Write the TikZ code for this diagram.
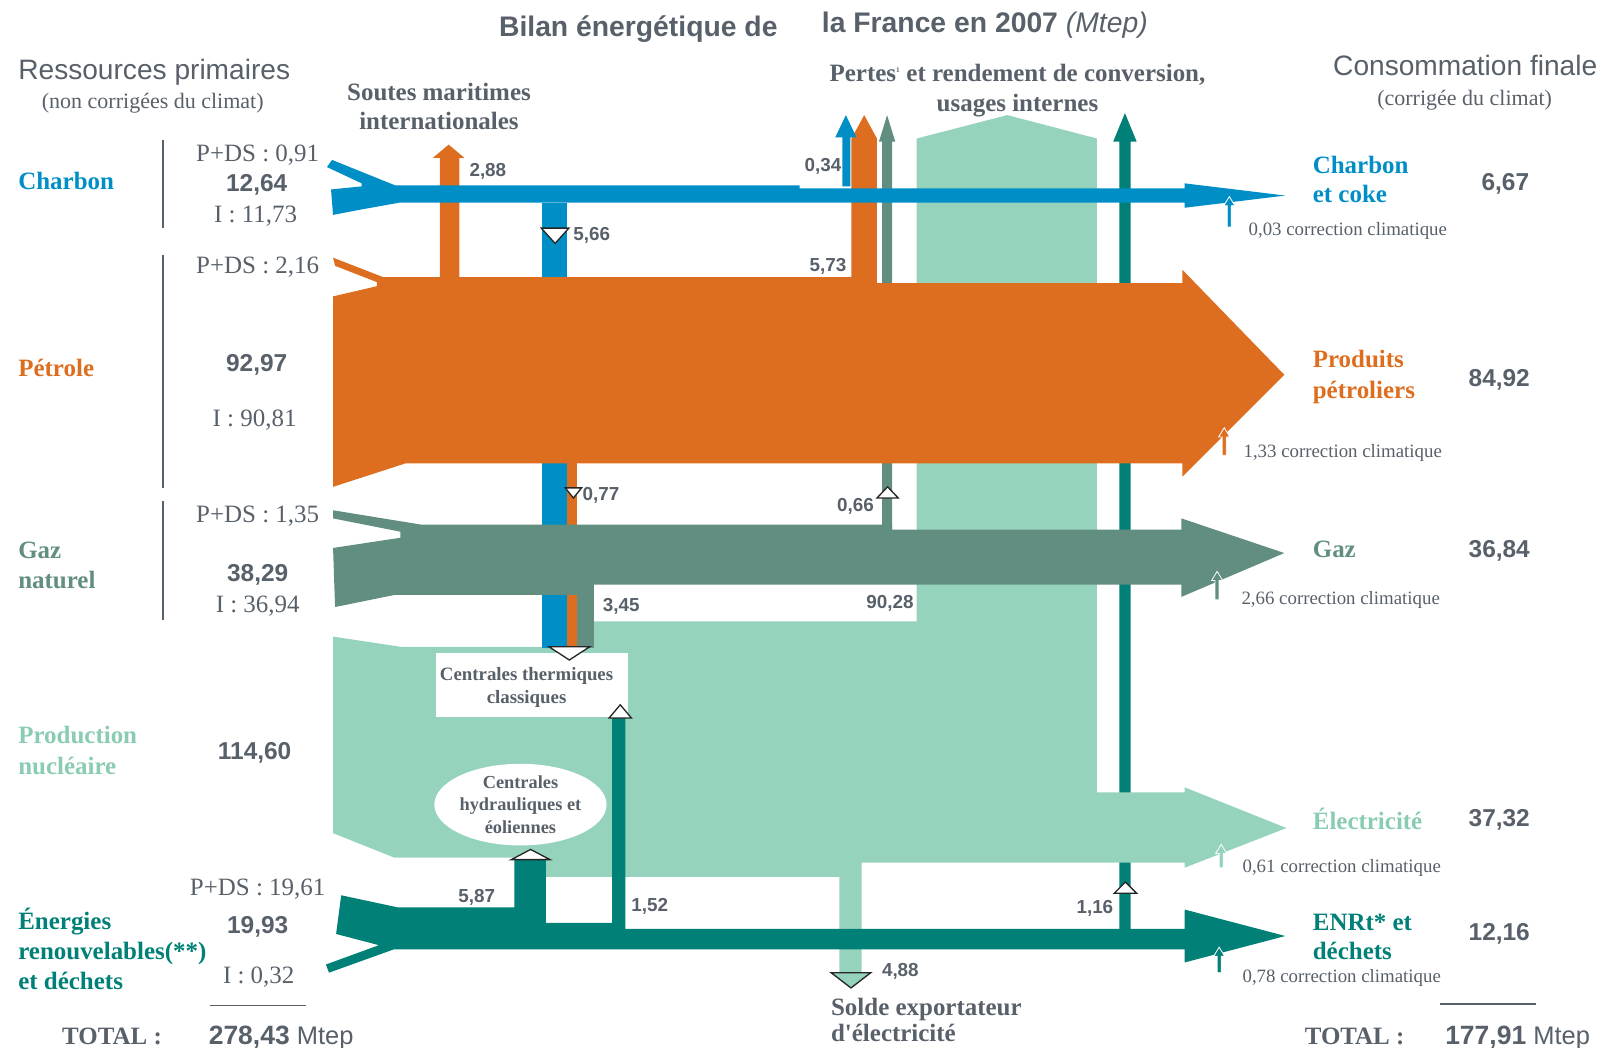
\documentclass[tikz,border=0pt]{standalone}
\usepackage{fontspec}
\setmainfont{Liberation Serif}
\setsansfont{Liberation Sans}
\usetikzlibrary{shapes.geometric}
\definecolor{coal}{RGB}{0,142,199}
\definecolor{oil}{RGB}{221,110,31}
\definecolor{gas}{RGB}{97,142,128}
\definecolor{nuc}{RGB}{150,211,188}
\definecolor{enr}{RGB}{0,128,118}
\definecolor{txt}{RGB}{88,96,106}
\definecolor{nuctxt}{RGB}{138,204,178}
\newcommand{\corrarrow}[4]{\fill[#4, draw=white, line width=0.8pt] ({#1-2},#2) -- ({#1-2},{#3+9}) -- ({#1-5.5},{#3+9}) -- (#1,#3) -- ({#1+5.5},{#3+9}) -- ({#1+2},{#3+9}) -- ({#1+2},#2) -- cycle;}
\tikzset{
  every node/.style={inner sep=0pt, outer sep=0pt},
  srcname/.style={anchor=mid west, yshift=-6pt, font=\fontsize{24.5}{26}\selectfont\bfseries},
  val/.style={anchor=mid, yshift=-6pt, font=\sffamily\bfseries\fontsize{24}{26}\selectfont, text=txt},
  pds/.style={anchor=mid, yshift=-6pt, font=\fontsize{24.5}{26}\selectfont, text=txt},
  flowlab/.style={yshift=-4pt, font=\sffamily\bfseries\fontsize{18.5}{20}\selectfont, text=txt},
  corrtxt/.style={anchor=mid west, yshift=-4pt, font=\fontsize{18.5}{20}\selectfont, text=txt},
  headser/.style={anchor=mid, yshift=-6pt, font=\fontsize{24.5}{26}\selectfont\bfseries, text=txt},
  tri/.style={fill=white, draw=black!85, line width=1.3pt, line join=miter},
  vrule/.style={draw=txt, line width=1.5pt}
}
\begin{document}
\begin{tikzpicture}[x=1pt,y=-1pt]
\useasboundingbox (0,0) rectangle (1568,1028);

% teal 1,16 (behind everything)
\fill[enr] (1099,912) -- (1099,139) -- (1093,139) -- (1104.5,111) -- (1116,139) -- (1110,139) -- (1110,912) -- cycle;

% nuclear / electricity
\fill[nuc] (327,625) -- (393,635) -- (583,635) -- (583,610) -- (900,610) -- (900,136) -- (989,113) -- (1077,136) -- (1077,778) -- (1163,778) -- (1163,773) -- (1263,813) -- (1163,852) -- (1163,847) -- (846,847) -- (846,955) -- (824,955) -- (824,861) -- (536,861) -- (536,842) -- (387,842) -- (327,818) -- cycle;

% vertical columns to thermal plants and gas losses
\fill[coal] (532,199) rectangle (557,636);
\fill[oil] (557,454) rectangle (567,636);
\fill[gas] (567,574) rectangle (583,636);
\fill[gas] (866,520) -- (866,139) -- (863,139) -- (871,113) -- (879,139) -- (876,139) -- (876,520) -- cycle;

% renewables
\fill[enr] (335,879) -- (391,891) -- (505,891) -- (505,844) -- (536,844) -- (536,906) -- (601,906) -- (601,704) -- (614,704) -- (614,912) -- (1163,912) -- (1163,893) -- (1262,919) -- (1163,945) -- (1163,932) -- (387,932) -- (323,955) -- (320,947) -- (372,928) -- (330,917) -- cycle;

% gas band
\fill[gas] (327,501) -- (413,515) -- (876,515) -- (876,520) -- (1160,520) -- (1160,509) -- (1261,543) -- (1160,586) -- (1160,574) -- (583,574) -- (583,584) -- (388,584) -- (329,596) -- (327,538) -- (393,528) -- (393,522) -- (327,509) -- cycle;

% petrol band
\fill[oil] (327,253) -- (376,272) -- (836,272) -- (836,136) -- (848.5,113) -- (861,136) -- (861,278) -- (1161,278) -- (1161,265) -- (1261,368) -- (1161,468) -- (1161,455) -- (398,455) -- (327,478) -- (327,291) -- (370,281) -- (370,277) -- (329,261) -- cycle;
\fill[oil] (432,273) -- (432,155) -- (425,155) -- (440.5,142) -- (456,155) -- (451,155) -- (451,273) -- cycle;

% coal band
\fill[coal] (326,157) -- (388,182) -- (785,182) -- (785,185) -- (1163,185) -- (1163,180) -- (1262,192) -- (1163,204) -- (1163,199) -- (392,199) -- (353,206) -- (327,211) -- (325,186) -- (355,183) -- (355,180) -- (321,164) -- cycle;
\fill[coal] (827,183) -- (827,135) -- (820,135) -- (830.5,113) -- (841,135) -- (835,135) -- (835,183) -- cycle;

% plant boxes
\fill[white] (428,641) rectangle (617,704);
\node[font=\fontsize{18.5}{22}\selectfont\bfseries, text=txt, align=center] (thermo) at (517,675) {Centrales thermiques\\classiques};
\node[ellipse, fill=white, minimum width=146pt, minimum height=80pt, align=center, font=\fontsize{18}{22}\selectfont\bfseries, text=txt] (hydro) at (511,790) {Centrales\\hydrauliques et\\éoliennes};

% triangles
\draw[tri] (531.5,224) -- (558.5,224) -- (545,239) -- cycle;
\draw[tri] (555,479) -- (571,479) -- (563,489) -- cycle;
\draw[tri] (539,635) -- (579,635) -- (559,648) -- cycle;
\draw[tri] (861,489) -- (882,489) -- (871.5,478) -- cycle;
\draw[tri] (598,705) -- (620,705) -- (609,692) -- cycle;
\draw[tri] (502,844) -- (540,844) -- (521,834) -- cycle;
\draw[tri] (1094,877) -- (1116,877) -- (1105,866) -- cycle;
\draw[tri, fill=nuc] (816,955) -- (855,955) -- (835.5,970) -- cycle;

% climate corrections
\corrarrow{1207}{223}{193}{coal}
\corrarrow{1202}{447}{420}{oil}
\corrarrow{1195}{589}{561}{gas}
\corrarrow{1199}{852}{829}{nuc}
\corrarrow{1197}{955}{930}{enr}

% rules
\draw[vrule] (160,137) -- (160,224);
\draw[vrule] (160,250) -- (160,479);
\draw[vrule] (160,492) -- (160,609);
\draw[vrule] (206,987) -- (300,987);
\draw[vrule] (1414,986) -- (1508,986);

% titles
\node[anchor=mid west, yshift=-6pt, font=\sffamily\bfseries\fontsize{27.8}{29}\selectfont, text=txt] (t1) at (490,28) {Bilan énergétique de};
\node[anchor=mid west, yshift=-6pt, font=\sffamily\bfseries\fontsize{27.8}{29}\selectfont, text=txt] (t2) at (807,24) {la France en 2007 {\mdseries\itshape (Mtep)}};
\node[anchor=mid west, yshift=-6pt, font=\sffamily\fontsize{27.6}{29}\selectfont, text=txt] (rp) at (18,70) {Ressources primaires};
\node[anchor=mid, yshift=-5pt, font=\fontsize{21.6}{23}\selectfont, text=txt] (rp2) at (150,99) {(non corrigées du climat)};
\node[anchor=mid west, yshift=-6pt, font=\sffamily\fontsize{27.6}{29}\selectfont, text=txt] (cf) at (1309,66) {Consommation finale};
\node[anchor=mid, yshift=-5pt, font=\fontsize{21.6}{23}\selectfont, text=txt] (cf2) at (1438,96) {(corrigée du climat)};
\node[headser] (sm1) at (431,90) {Soutes maritimes};
\node[headser] (sm2) at (431,119) {internationales};
\node[headser] (pe1) at (999,72) {Pertes\textsuperscript{\fontsize{7}{7}\selectfont 1} et rendement de conversion,};
\node[headser] (pe2) at (999,101) {usages internes};

% left labels
\node[srcname, text=coal] (lc) at (18,178) {Charbon};
\node[pds] (lc1) at (253,150) {P+DS : 0,91};
\node[val] (lc2) at (252,180) {12,64};
\node[pds] (lc3) at (251,210) {I : 11,73};

\node[srcname, text=oil] (lo) at (18,361) {Pétrole};
\node[pds] (lo1) at (253,260) {P+DS : 2,16};
\node[val] (lo2) at (252,356) {92,97};
\node[pds] (lo3) at (250,410) {I : 90,81};

\node[srcname, text=gas] (lg1) at (18,540) {Gaz};
\node[srcname, text=gas] (lg2) at (18,570) {naturel};
\node[pds] (lg3) at (253,505) {P+DS : 1,35};
\node[val] (lg4) at (253,563) {38,29};
\node[pds] (lg5) at (253,593) {I : 36,94};

\node[srcname, text=nuctxt] (ln1) at (18,722) {Production};
\node[srcname, text=nuctxt] (ln2) at (18,752) {nucléaire};
\node[val] (ln3) at (250,737) {114,60};

\node[srcname, text=enr] (le1) at (18,904) {Énergies};
\node[srcname, text=enr] (le2) at (18,934) {renouvelables(**)};
\node[srcname, text=enr] (le3) at (18,963) {et déchets};
\node[pds] (le4) at (253,871) {P+DS : 19,61};
\node[val] (le5) at (253,908) {19,93};
\node[pds] (le6) at (254,957) {I : 0,32};

\node[headser] (tot1) at (110,1017) {TOTAL :};
\node[anchor=mid west, yshift=-7pt, font=\sffamily\fontsize{25}{27}\selectfont, text=txt] (tot2) at (205,1016) {{\bfseries\fontsize{26}{27}\selectfont 278,43} Mtep};

% right labels
\node[srcname, text=coal] (rc1) at (1289,162) {Charbon};
\node[srcname, text=coal] (rc2) at (1289,191) {et coke};
\node[val] (rc3) at (1478,179) {6,67};
\node[corrtxt] (rc4) at (1226,225) {0,03 correction climatique};

\node[srcname, text=oil] (ro1) at (1289,353) {Produits};
\node[srcname, text=oil] (ro2) at (1289,383) {pétroliers};
\node[val] (ro3) at (1472,371) {84,92};
\node[corrtxt] (ro4) at (1221,443) {1,33 correction climatique};

\node[srcname, text=gas] (rg1) at (1289,539) {Gaz};
\node[val] (rg2) at (1472,539) {36,84};
\node[corrtxt] (rg3) at (1219,587) {2,66 correction climatique};

\node[srcname, text=nuctxt] (re1) at (1289,806) {Électricité};
\node[val] (re2) at (1472,803) {37,32};
\node[corrtxt] (re3) at (1220,850) {0,61 correction climatique};

\node[srcname, text=enr] (rr1) at (1289,905) {ENRt* et};
\node[srcname, text=enr] (rr2) at (1289,934) {déchets};
\node[val] (rr3) at (1472,915) {12,16};
\node[corrtxt] (rr4) at (1220,958) {0,78 correction climatique};

\node[headser] (tot3) at (1330,1017) {TOTAL :};
\node[anchor=mid west, yshift=-7pt, font=\sffamily\fontsize{25}{27}\selectfont, text=txt] (tot4) at (1419,1016) {{\bfseries\fontsize{26}{27}\selectfont 177,91} Mtep};

% flow values
\node[flowlab, anchor=mid west] (f1) at (461,167) {2,88};
\node[flowlab, anchor=mid west] (f2) at (563,230) {5,66};
\node[flowlab, anchor=mid east] (f3) at (826,162) {0,34};
\node[flowlab, anchor=mid east] (f4) at (831,260) {5,73};
\node[flowlab, anchor=mid west] (f5) at (572,485) {0,77};
\node[flowlab, anchor=mid east] (f6) at (858,496) {0,66};
\node[flowlab, anchor=mid west] (f7) at (592,594) {3,45};
\node[flowlab, anchor=mid east] (f8) at (897,591) {90,28};
\node[flowlab, anchor=mid] (f9) at (468,880) {5,87};
\node[flowlab, anchor=mid west] (f10) at (620,889) {1,52};
\node[flowlab, anchor=mid east] (f11) at (1093,891) {1,16};
\node[flowlab, anchor=mid west] (f12) at (866,952) {4,88};

\node[anchor=mid west, yshift=-6pt, font=\fontsize{24.5}{26}\selectfont\bfseries, text=txt] (se1) at (816,989) {Solde exportateur};
\node[anchor=mid west, yshift=-6pt, font=\fontsize{24.5}{26}\selectfont\bfseries, text=txt] (se2) at (816,1014) {d\textquotesingle électricité};
\end{tikzpicture}
\end{document}
